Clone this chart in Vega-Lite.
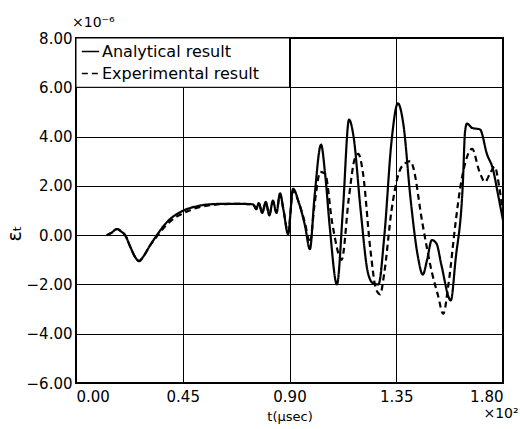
{
  "$schema": "https://vega.github.io/schema/vega-lite/v6.json",
  "width": 427,
  "height": 345,
  "autosize": {"type": "none"},
  "padding": {"left": 76, "top": 38, "right": 17, "bottom": 46},
  "config": {
    "view": {"stroke": "black", "strokeWidth": 2},
    "font": "DejaVu Sans",
    "axis": {
      "grid": true, "gridColor": "black", "gridOpacity": 1, "gridWidth": 1,
      "ticks": false, "domain": false,
      "labelColor": "black", "labelFontSize": 15, "labelFont": "DejaVu Sans",
      "titleColor": "black", "titleFont": "DejaVu Sans", "titleFontWeight": "normal"
    }
  },
  "datasets": {
    "curves": [
      {"x": 0.13, "y": 0.0, "series": "Analytical result"},
      {"x": 0.15, "y": 0.1, "series": "Analytical result"},
      {"x": 0.173, "y": 0.25, "series": "Analytical result"},
      {"x": 0.19, "y": 0.15, "series": "Analytical result"},
      {"x": 0.207, "y": 0.0, "series": "Analytical result"},
      {"x": 0.23, "y": -0.5, "series": "Analytical result"},
      {"x": 0.25, "y": -0.9, "series": "Analytical result"},
      {"x": 0.266, "y": -1.06, "series": "Analytical result"},
      {"x": 0.285, "y": -0.85, "series": "Analytical result"},
      {"x": 0.31, "y": -0.45, "series": "Analytical result"},
      {"x": 0.341, "y": 0.0, "series": "Analytical result"},
      {"x": 0.37, "y": 0.38, "series": "Analytical result"},
      {"x": 0.396, "y": 0.65, "series": "Analytical result"},
      {"x": 0.43, "y": 0.88, "series": "Analytical result"},
      {"x": 0.468, "y": 1.06, "series": "Analytical result"},
      {"x": 0.5, "y": 1.15, "series": "Analytical result"},
      {"x": 0.535, "y": 1.22, "series": "Analytical result"},
      {"x": 0.58, "y": 1.26, "series": "Analytical result"},
      {"x": 0.62, "y": 1.27, "series": "Analytical result"},
      {"x": 0.68, "y": 1.27, "series": "Analytical result"},
      {"x": 0.746, "y": 1.25, "series": "Analytical result"},
      {"x": 0.76, "y": 1.05, "series": "Analytical result"},
      {"x": 0.77, "y": 1.3, "series": "Analytical result"},
      {"x": 0.785, "y": 0.9, "series": "Analytical result"},
      {"x": 0.8, "y": 1.35, "series": "Analytical result"},
      {"x": 0.815, "y": 0.8, "series": "Analytical result"},
      {"x": 0.83, "y": 1.4, "series": "Analytical result"},
      {"x": 0.845, "y": 0.9, "series": "Analytical result"},
      {"x": 0.86, "y": 1.7, "series": "Analytical result"},
      {"x": 0.875, "y": 1.0, "series": "Analytical result"},
      {"x": 0.894, "y": 0.04, "series": "Analytical result"},
      {"x": 0.915, "y": 1.88, "series": "Analytical result"},
      {"x": 0.94, "y": 1.3, "series": "Analytical result"},
      {"x": 0.965, "y": 0.4, "series": "Analytical result"},
      {"x": 0.986, "y": -0.57, "series": "Analytical result"},
      {"x": 1.005, "y": 1.5, "series": "Analytical result"},
      {"x": 1.033, "y": 3.67, "series": "Analytical result"},
      {"x": 1.05, "y": 2.5, "series": "Analytical result"},
      {"x": 1.07, "y": 0.3, "series": "Analytical result"},
      {"x": 1.1, "y": -2.0, "series": "Analytical result"},
      {"x": 1.125, "y": 1.0, "series": "Analytical result"},
      {"x": 1.151, "y": 4.69, "series": "Analytical result"},
      {"x": 1.17, "y": 4.0, "series": "Analytical result"},
      {"x": 1.2, "y": 1.0, "series": "Analytical result"},
      {"x": 1.23, "y": -1.5, "series": "Analytical result"},
      {"x": 1.252, "y": -1.95, "series": "Analytical result"},
      {"x": 1.275, "y": -2.0, "series": "Analytical result"},
      {"x": 1.3, "y": 0.0, "series": "Analytical result"},
      {"x": 1.33, "y": 3.8, "series": "Analytical result"},
      {"x": 1.357, "y": 5.35, "series": "Analytical result"},
      {"x": 1.38, "y": 4.5, "series": "Analytical result"},
      {"x": 1.41, "y": 1.5, "series": "Analytical result"},
      {"x": 1.44, "y": -0.8, "series": "Analytical result"},
      {"x": 1.462, "y": -1.6, "series": "Analytical result"},
      {"x": 1.48, "y": -1.0, "series": "Analytical result"},
      {"x": 1.5, "y": -0.2, "series": "Analytical result"},
      {"x": 1.52, "y": -0.35, "series": "Analytical result"},
      {"x": 1.54, "y": -1.2, "series": "Analytical result"},
      {"x": 1.58, "y": -2.65, "series": "Analytical result"},
      {"x": 1.6, "y": -1.0, "series": "Analytical result"},
      {"x": 1.631, "y": 2.16, "series": "Analytical result"},
      {"x": 1.64, "y": 4.2, "series": "Analytical result"},
      {"x": 1.648, "y": 4.53, "series": "Analytical result"},
      {"x": 1.67, "y": 4.35, "series": "Analytical result"},
      {"x": 1.703, "y": 4.29, "series": "Analytical result"},
      {"x": 1.733, "y": 3.27, "series": "Analytical result"},
      {"x": 1.757, "y": 2.7, "series": "Analytical result"},
      {"x": 1.78, "y": 1.6, "series": "Analytical result"},
      {"x": 1.8, "y": 0.6, "series": "Analytical result"},

      {"x": 0.13, "y": 0.0, "series": "Experimental result"},
      {"x": 0.15, "y": 0.1, "series": "Experimental result"},
      {"x": 0.173, "y": 0.25, "series": "Experimental result"},
      {"x": 0.19, "y": 0.15, "series": "Experimental result"},
      {"x": 0.207, "y": 0.0, "series": "Experimental result"},
      {"x": 0.23, "y": -0.5, "series": "Experimental result"},
      {"x": 0.25, "y": -0.9, "series": "Experimental result"},
      {"x": 0.266, "y": -1.04, "series": "Experimental result"},
      {"x": 0.285, "y": -0.85, "series": "Experimental result"},
      {"x": 0.31, "y": -0.45, "series": "Experimental result"},
      {"x": 0.345, "y": 0.0, "series": "Experimental result"},
      {"x": 0.37, "y": 0.3, "series": "Experimental result"},
      {"x": 0.396, "y": 0.55, "series": "Experimental result"},
      {"x": 0.43, "y": 0.78, "series": "Experimental result"},
      {"x": 0.468, "y": 0.96, "series": "Experimental result"},
      {"x": 0.5, "y": 1.08, "series": "Experimental result"},
      {"x": 0.535, "y": 1.17, "series": "Experimental result"},
      {"x": 0.58, "y": 1.23, "series": "Experimental result"},
      {"x": 0.62, "y": 1.26, "series": "Experimental result"},
      {"x": 0.68, "y": 1.27, "series": "Experimental result"},
      {"x": 0.746, "y": 1.25, "series": "Experimental result"},
      {"x": 0.76, "y": 1.1, "series": "Experimental result"},
      {"x": 0.77, "y": 1.3, "series": "Experimental result"},
      {"x": 0.785, "y": 0.95, "series": "Experimental result"},
      {"x": 0.8, "y": 1.3, "series": "Experimental result"},
      {"x": 0.815, "y": 0.85, "series": "Experimental result"},
      {"x": 0.83, "y": 1.35, "series": "Experimental result"},
      {"x": 0.845, "y": 0.95, "series": "Experimental result"},
      {"x": 0.86, "y": 1.65, "series": "Experimental result"},
      {"x": 0.875, "y": 1.0, "series": "Experimental result"},
      {"x": 0.894, "y": 0.1, "series": "Experimental result"},
      {"x": 0.915, "y": 1.8, "series": "Experimental result"},
      {"x": 0.94, "y": 1.3, "series": "Experimental result"},
      {"x": 0.965, "y": 0.5, "series": "Experimental result"},
      {"x": 0.986, "y": -0.3, "series": "Experimental result"},
      {"x": 1.005, "y": 1.2, "series": "Experimental result"},
      {"x": 1.03, "y": 2.57, "series": "Experimental result"},
      {"x": 1.05, "y": 2.5, "series": "Experimental result"},
      {"x": 1.08, "y": 0.5, "series": "Experimental result"},
      {"x": 1.12, "y": -1.0, "series": "Experimental result"},
      {"x": 1.15, "y": 1.5, "series": "Experimental result"},
      {"x": 1.175, "y": 3.1, "series": "Experimental result"},
      {"x": 1.19, "y": 3.3, "series": "Experimental result"},
      {"x": 1.21, "y": 2.5, "series": "Experimental result"},
      {"x": 1.24, "y": -0.5, "series": "Experimental result"},
      {"x": 1.265, "y": -2.2, "series": "Experimental result"},
      {"x": 1.282, "y": -2.4, "series": "Experimental result"},
      {"x": 1.3, "y": -1.5, "series": "Experimental result"},
      {"x": 1.33, "y": 1.0, "series": "Experimental result"},
      {"x": 1.36, "y": 2.5, "series": "Experimental result"},
      {"x": 1.385, "y": 2.9, "series": "Experimental result"},
      {"x": 1.41, "y": 3.0, "series": "Experimental result"},
      {"x": 1.42, "y": 2.8, "series": "Experimental result"},
      {"x": 1.46, "y": 0.5, "series": "Experimental result"},
      {"x": 1.5, "y": -1.5, "series": "Experimental result"},
      {"x": 1.526, "y": -2.45, "series": "Experimental result"},
      {"x": 1.548, "y": -3.2, "series": "Experimental result"},
      {"x": 1.57, "y": -2.0, "series": "Experimental result"},
      {"x": 1.6, "y": 0.5, "series": "Experimental result"},
      {"x": 1.619, "y": 1.88, "series": "Experimental result"},
      {"x": 1.64, "y": 2.9, "series": "Experimental result"},
      {"x": 1.67, "y": 3.5, "series": "Experimental result"},
      {"x": 1.7, "y": 2.6, "series": "Experimental result"},
      {"x": 1.724, "y": 2.16, "series": "Experimental result"},
      {"x": 1.745, "y": 2.5, "series": "Experimental result"},
      {"x": 1.765, "y": 2.78, "series": "Experimental result"},
      {"x": 1.785, "y": 1.9, "series": "Experimental result"},
      {"x": 1.8, "y": 0.9, "series": "Experimental result"}
    ]
  },
  "encoding": {
    "x": {
      "field": "x", "type": "quantitative",
      "scale": {"domain": [0, 1.8], "nice": false, "zero": false},
      "axis": {
        "values": [0, 0.45, 0.9, 1.35, 1.8], "format": ".2f",
        "labelPadding": 6, "title": "t(μsec)", "titleFontSize": 13, "titlePadding": 6
      }
    },
    "y": {
      "field": "y", "type": "quantitative",
      "scale": {"domain": [-6, 8], "nice": false, "zero": false},
      "axis": {
        "values": [-6, -4, -2, 0, 2, 4, 6, 8], "format": ".2f",
        "labelPadding": 4, "title": "εₜ", "titleFontSize": 19,
        "titleX": -62, "titleY": 195, "titleAngle": 270, "titleBaseline": "middle"
      }
    }
  },
  "layer": [
    {
      "data": {"values": [{"x": 0, "xe": 0.9, "y": 6, "ye": 8}]},
      "mark": {"type": "rect", "fill": "white", "stroke": "black", "strokeWidth": 1},
      "encoding": {"x2": {"field": "xe"}, "y2": {"field": "ye"}}
    },
    {
      "data": {"name": "curves"},
      "mark": {"type": "line", "color": "black", "strokeWidth": 2.2, "interpolate": "monotone"},
      "encoding": {
        "strokeDash": {
          "field": "series", "type": "nominal",
          "scale": {"domain": ["Analytical result", "Experimental result"], "range": [[1, 0], [6, 4]]},
          "legend": {
            "orient": "none", "legendX": 2, "legendY": 1, "title": null,
            "symbolType": "stroke", "symbolSize": 300, "symbolStrokeWidth": 1.6,
            "symbolStrokeColor": "black", "labelFontSize": 16, "labelColor": "black",
            "labelOffset": 2, "rowPadding": 4, "padding": 3, "labelLimit": 300
          }
        }
      }
    },
    {
      "data": {"values": [{"x": 0, "y": 8, "t": "×10⁻⁶"}]},
      "mark": {"type": "text", "align": "left", "baseline": "bottom", "dx": -4, "dy": -8, "fontSize": 14, "color": "black"},
      "encoding": {"text": {"field": "t"}}
    },
    {
      "data": {"values": [{"x": 1.8, "y": -6, "t": "×10²"}]},
      "mark": {"type": "text", "align": "center", "baseline": "top", "dx": -2, "dy": 24, "fontSize": 14, "color": "black"},
      "encoding": {"text": {"field": "t"}}
    }
  ]
}
